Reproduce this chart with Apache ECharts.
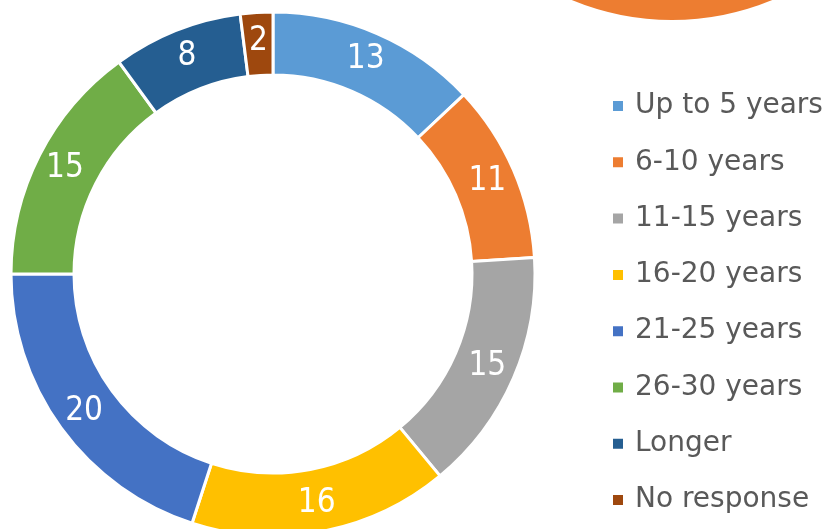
<!DOCTYPE html>
<html>
<head>
<meta charset="utf-8">
<script src="https://cdn.jsdelivr.net/npm/echarts@6/dist/echarts.min.js"></script>
<style>
  html, body { margin: 0; padding: 0; background: #fff; }
  #chart { width: 828px; height: 529px; }
</style>
</head>
<body>
<div id="chart"></div>
<script>
  // years of experience, share of respondents
  var categories = ['Up to 5 years', '6-10 years', '11-15 years', '16-20 years', '21-25 years', '26-30 years', 'Longer', 'No response'];
  var values = [13, 11, 15, 16, 20, 15, 8, 2];
  var colors = ['#5B9BD5', '#ED7D31', '#A5A5A5', '#FFC000', '#4472C4', '#70AD47', '#255E91', '#9E480E'];

  var chart = echarts.init(document.getElementById('chart'));

  chart.setOption({
    animation: false,
    color: colors,
    legend: {
      orient: 'vertical',
      left: 611,
      top: 92,
      padding: 0,
      itemWidth: 12,
      itemHeight: 12,
      itemGap: 28.3,
      icon: 'rect',
      textStyle: {
        fontFamily: 'DejaVu Sans, Verdana, sans-serif',
        fontSize: 28,
        lineHeight: 28,
        color: '#595959',
        padding: [0, 0, 0, 6]
      },
      data: categories
    },
    series: [
      {
        // piece of the neighbouring chart peeking in at the top
        type: 'pie',
        silent: true,
        center: [672, -242],
        radius: [0, 262],
        label: { show: false },
        itemStyle: { color: '#ED7D31' },
        data: [{ value: 1, name: '' }]
      },
      {
        name: 'Experience',
        type: 'pie',
        center: [273, 274],
        radius: [199, 262],
        startAngle: 90,
        clockwise: true,
        avoidLabelOverlap: false,
        itemStyle: {
          borderColor: '#fff',
          borderWidth: 3
        },
        label: {
          show: true,
          position: 'inside',
          formatter: '{c}',
          color: '#fff',
          fontFamily: 'DejaVu Sans Condensed, DejaVu Sans, sans-serif',
          fontSize: 33
        },
        labelLine: { show: false },
        data: categories.map(function (c, i) {
          return { name: c, value: values[i] };
        })
      }
    ]
  });
</script>
</body>
</html>
